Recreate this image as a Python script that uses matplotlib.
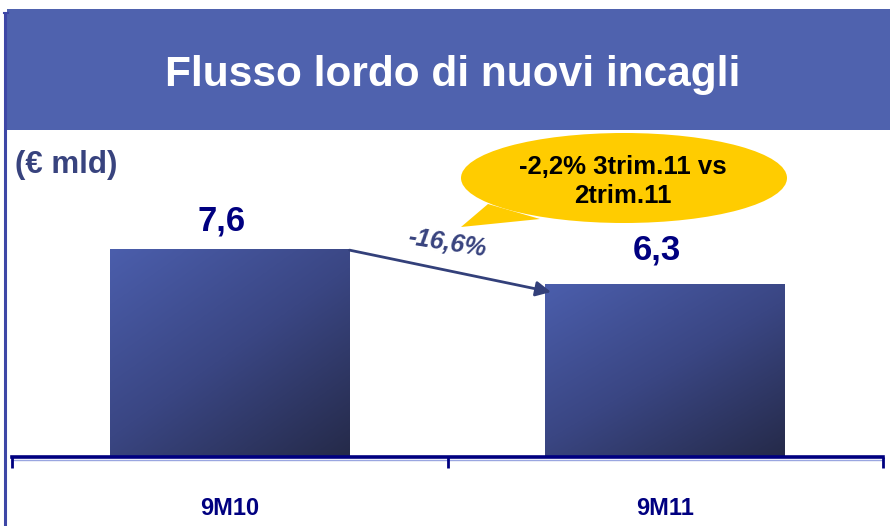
import matplotlib
matplotlib.use("Agg")
import matplotlib.pyplot as plt
import numpy as np
from matplotlib.patches import Rectangle, Ellipse, Polygon
from matplotlib.colors import LinearSegmentedColormap

# ---- data ----
categories = ["9M10", "9M11"]
values = [7.6, 6.3]
value_labels = ["7,6", "6,3"]
change_label = "-16,6%"
callout_lines = ["-2,2% 3trim.11 vs", "2trim.11"]
title = "Flusso lordo di nuovi incagli"
unit_label = "(€ mld)"

W, H = 890, 526
fig = plt.figure(figsize=(W / 100, H / 100), dpi=100)
fig.patch.set_facecolor("white")

FONT = "Liberation Sans"
NAVY = "#000080"
SLATE = "#38437E"
BAND = "#4F62AE"

# overlay axes in pixel coordinates for decorations
ov = fig.add_axes([0, 0, 1, 1], zorder=0)
ov.set_xlim(0, W)
ov.set_ylim(H, 0)
ov.axis("off")

# title band and left border
ov.add_patch(Rectangle((7, 9), W - 7, 121, facecolor=BAND, edgecolor="none"))
ov.plot([4.5, 4.5], [13, H], color="#3E47A6", lw=2.2, solid_capstyle="butt")
ov.plot([3.5, 8], [13, 13], color="#3E47A6", lw=1.5)
ov.text(453, 86, title, color="white", fontsize=30.5, fontweight="bold",
        family=FONT, ha="center", va="baseline")
ov.text(15, 173, unit_label, color=SLATE, fontsize=22.5, fontweight="bold",
        family=FONT, ha="left", va="baseline")

# main axes: x spans 12..883 px, y=0 at 457 px
ax_left, ax_right = 12, 883
ax_bottom, ax_top = 457, 131
ax = fig.add_axes([ax_left / W, (H - ax_bottom) / H,
                   (ax_right - ax_left) / W, (ax_bottom - ax_top) / H], zorder=1)
ax.patch.set_alpha(0)
ymax = (ax_bottom - ax_top) / 27.4
ax.set_xlim(-0.5, 1.5)
ax.set_ylim(0, ymax)

x = np.arange(len(categories))
bar_w = 0.55
bars = ax.bar(x, values, width=bar_w, color="none", edgecolor="none", zorder=2)

cmap = LinearSegmentedColormap.from_list("g", ["#4B5EAC", "#3A4683", "#252A49"])
nx, ny = 200, 200
u = np.linspace(0, 1, nx)[None, :]
v = np.linspace(0, 1, ny)[:, None]
grad = 0.45 * u + 0.55 * v  # row 0 = top of bar
for b in bars:
    x0, w, h = b.get_x(), b.get_width(), b.get_height()
    im = ax.imshow(grad, cmap=cmap, extent=(x0, x0 + w, 0, h), origin="upper",
                   aspect="auto", zorder=2, interpolation="bilinear")
    im.set_clip_path(b)
ax.set_xlim(-0.5, 1.5)
ax.set_ylim(0, ymax)

# value labels
px_x = 2.0 / (ax_right - ax_left)  # data per px (x)
label_gap_px = [18, 25]
for xi, val, lab, gap in zip(x, values, value_labels, label_gap_px):
    ax.text(xi - 8 * px_x, val + gap / 27.4, lab, color=NAVY, fontsize=25,
            fontweight="bold", family=FONT, ha="center", va="baseline")

# change arrow between bars
def px2data(px, py):
    return ((px - ax_left) / (ax_right - ax_left) * 2 - 0.5, (ax_bottom - py) / 27.4)

start = (x[0] + bar_w / 2, values[0] - 0.05)
end = px2data(551, 292)
ax.annotate("", xy=end, xytext=start,
            arrowprops=dict(arrowstyle="-|>,head_length=0.9,head_width=0.45",
                            color="#33407A", lw=2, shrinkA=0, shrinkB=0), zorder=3)
ax.text(*px2data(447, 243), change_label, color=SLATE, fontsize=18,
        fontweight="bold", style="italic", family=FONT, ha="center", va="center",
        rotation=-9)

# axis styling
for s in ["top", "right", "left"]:
    ax.spines[s].set_visible(False)
ax.spines["bottom"].set_color(NAVY)
ax.spines["bottom"].set_linewidth(2.6)
ax.set_yticks([])
ax.set_xticks(x)
ax.set_xticklabels(categories)
ax.tick_params(axis="x", which="major", length=0, pad=28.5)
ax.set_xticks([-0.5, 0.5, 1.5], minor=True)
ax.tick_params(axis="x", which="minor", length=8, width=2, color=NAVY, direction="out")
for t in ax.get_xticklabels():
    t.set_fontsize(17)
    t.set_fontweight("bold")
    t.set_color(NAVY)
    t.set_family(FONT)
# light line under axis
ov.plot([ax_left, ax_right], [460, 460], color="#9AA6E0", lw=1)

# callout bubble
ov2 = fig.add_axes([0, 0, 1, 1], zorder=3)
ov2.set_xlim(0, W)
ov2.set_ylim(H, 0)
ov2.axis("off")
ov2.add_patch(Ellipse((624, 178), 326, 90, facecolor="#FFCC00", edgecolor="none"))
ov2.add_patch(Polygon([(488, 204), (461, 227), (540, 219)], closed=True,
                      facecolor="#FFCC00", edgecolor="none"))
ov2.text(623, 167, callout_lines[0], color="black", fontsize=18.5, fontweight="bold",
         family=FONT, ha="center", va="center")
ov2.text(623, 196, callout_lines[1], color="black", fontsize=18.5, fontweight="bold",
         family=FONT, ha="center", va="center")

fig.savefig("out.png", dpi=100)
